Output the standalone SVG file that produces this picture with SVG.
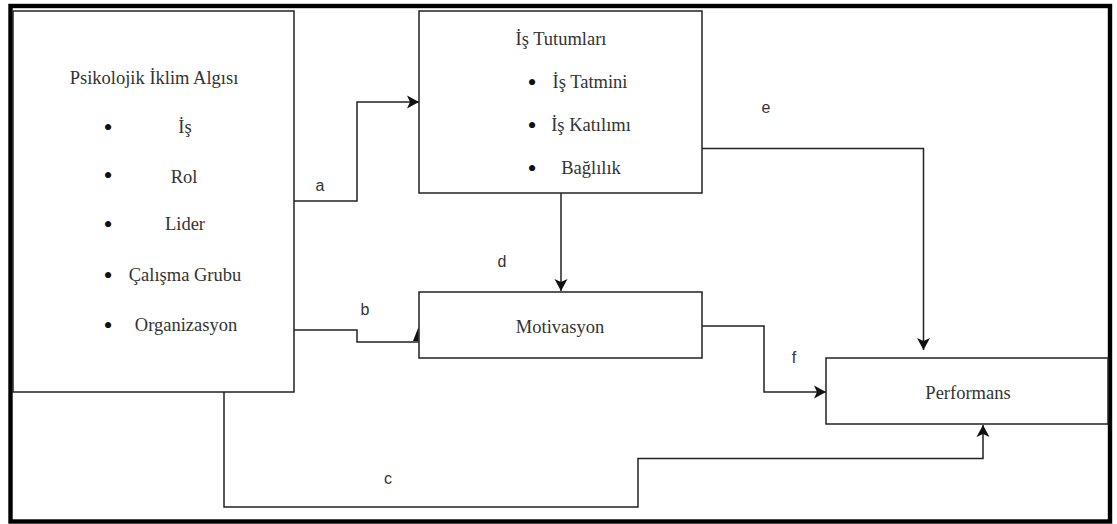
<svg xmlns="http://www.w3.org/2000/svg" width="1117" height="524" viewBox="0 0 1117 524">
<style>
.box{fill:#fff;stroke:#222;stroke-width:1.5}
.t{font-family:"Liberation Serif","Times New Roman",serif;font-size:18.5px;fill:#333;text-anchor:middle}
.b{font-family:"Liberation Serif","Times New Roman",serif;font-size:26px;fill:#111;text-anchor:middle}
.l{font-family:"Liberation Sans",Arial,sans-serif;font-size:16px;fill:#333;text-anchor:middle}
.c{fill:none;stroke:#222;stroke-width:1.5}
</style>
<defs>
<marker id="arr" markerUnits="userSpaceOnUse" markerWidth="14" markerHeight="14" refX="12" refY="6.5" orient="auto" viewBox="0 0 14 13">
<path d="M0,0 L12,6.5 L0,13 L3,6.5 Z" fill="#111"/>
</marker>
</defs>
<rect x="0" y="0" width="1117" height="524" fill="#fff"/>
<rect id="frame" x="10.5" y="6" width="1099.5" height="515.5" fill="none" stroke="#000" stroke-width="4.4"/>
<g id="n-psikolojik">
<rect class="box" x="13" y="11" width="281" height="381"/>
<text class="t" x="154" y="84">Psikolojik İklim Algısı</text>
<text class="b" x="108" y="135.5">•</text><text class="t" x="185" y="133">İş</text>
<text class="b" x="108" y="184">•</text><text class="t" x="184" y="183">Rol</text>
<text class="b" x="108" y="233">•</text><text class="t" x="185" y="230">Lider</text>
<text class="b" x="108" y="284">•</text><text class="t" x="185" y="281">Çalışma Grubu</text>
<text class="b" x="108" y="334">•</text><text class="t" x="186" y="331">Organizasyon</text>
</g>
<g id="n-tutum">
<rect class="box" x="419" y="11" width="283" height="182"/>
<text class="t" x="561" y="45">İş Tutumları</text>
<text class="b" x="532" y="91">•</text><text class="t" x="590" y="88">İş Tatmini</text>
<text class="b" x="532" y="134">•</text><text class="t" x="591" y="131">İş Katılımı</text>
<text class="b" x="532" y="177">•</text><text class="t" x="591" y="174">Bağlılık</text>
</g>
<g id="n-motivasyon">
<rect class="box" x="419" y="292" width="283" height="66"/>
<text class="t" x="560" y="333">Motivasyon</text>
</g>
<g id="n-performans">
<rect class="box" x="826" y="358" width="282" height="66"/>
<text class="t" x="968" y="399">Performans</text>
</g>
<g id="connectors">
<path class="c" d="M294,201 H357 V102 H419" marker-end="url(#arr)"/>
<path class="c" d="M294,330 H357 V342 H419"/>
<polygon points="413,341 418.5,327 418.5,341" fill="#111"/>
<path class="c" d="M224,392 V507 H638 V458.5 H983 V425" marker-end="url(#arr)"/>
<path class="c" d="M561,193 V291" marker-end="url(#arr)"/>
<path class="c" d="M702,148.5 H923.5 V350" marker-end="url(#arr)"/>
<path class="c" d="M702,326 H764 V392 H826" marker-end="url(#arr)"/>
<text class="l" x="320" y="191">a</text>
<text class="l" x="365" y="315">b</text>
<text class="l" x="388" y="484">c</text>
<text class="l" x="502" y="267">d</text>
<text class="l" x="766" y="113">e</text>
<text class="l" x="794" y="363">f</text>
</g>
</svg>
